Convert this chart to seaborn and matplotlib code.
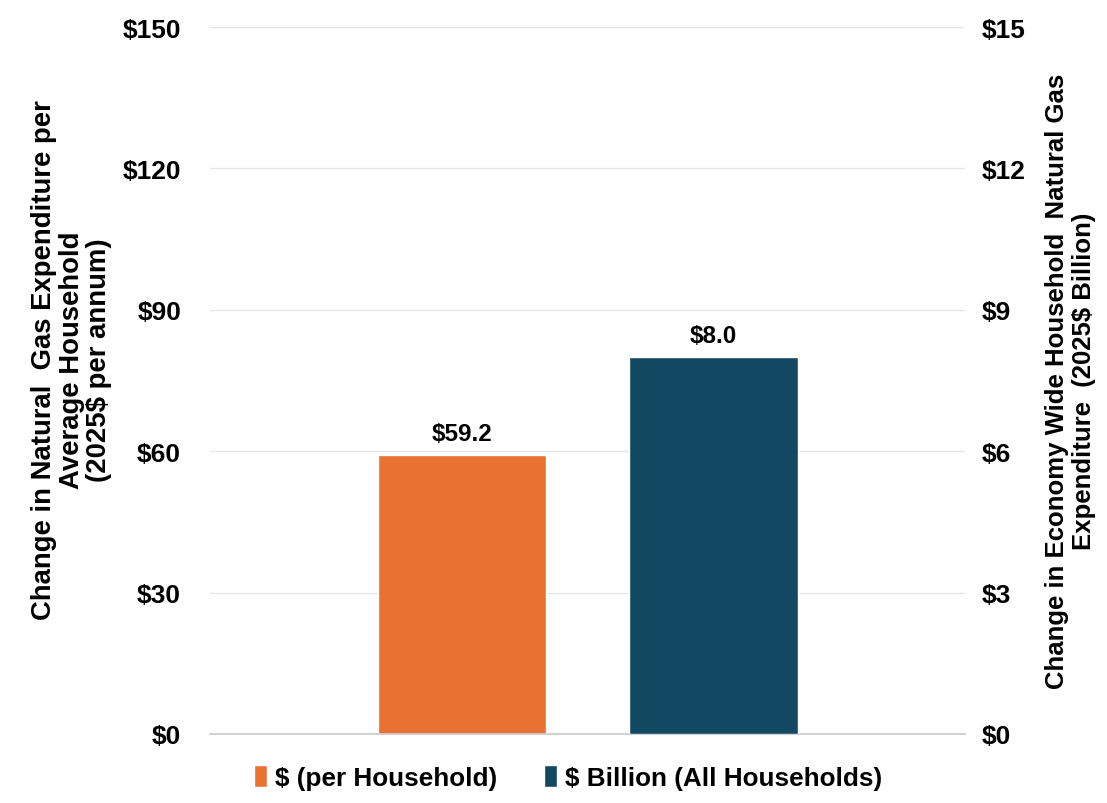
import seaborn as sns
import pandas as pd
import matplotlib.pyplot as plt
from matplotlib.patches import Patch

series = ["$ (per Household)", "$ Billion (All Households)"]
per_household = [59.2]
all_households_bn = [8.0]
left_ticks = [0, 30, 60, 90, 120, 150]
right_ticks = [0, 3, 6, 9, 12, 15]
colors = ["#E97132", "#124862"]

sns.set_theme(style="white")
plt.rcParams["font.family"] = ["Liberation Sans", "DejaVu Sans"]
plt.rcParams["font.weight"] = "bold"
plt.rcParams["text.color"] = "black"
plt.rcParams["axes.labelcolor"] = "black"
plt.rcParams["ytick.color"] = "black"

fig = plt.figure(figsize=(11.07, 8.04), dpi=100)
ax = fig.add_axes([0.19, 0.086, 0.682, 0.879])
ax2 = ax.twinx()

df_hh = pd.DataFrame({"series": [series[0]], "value": per_household})
df_all = pd.DataFrame({"series": [series[1]], "value": all_households_bn})

sns.barplot(data=df_hh, x="series", y="value", order=series, color=colors[0],
            width=0.67, ax=ax, saturation=1, zorder=3)
sns.barplot(data=df_all, x="series", y="value", order=series, color=colors[1],
            width=0.67, ax=ax2, saturation=1, zorder=3)

ax.set_ylim(0, 150)
ax2.set_ylim(0, 15)
ax.set_xlim(-1, 2)
ax2.set_xlim(-1, 2)

ax.set_yticks(left_ticks, [f"${v}" for v in left_ticks], fontsize=19, fontweight="bold")
ax2.set_yticks(right_ticks, [f"${v}" for v in right_ticks], fontsize=19, fontweight="bold")
ax.tick_params(axis="y", length=0, pad=21)
ax2.tick_params(axis="y", length=0, pad=12)
ax.set_xticks([])
ax.set_xlabel("")
ax2.set_xlabel("")

ax.grid(axis="y", color="#e6e6e6", linewidth=1, zorder=0)
ax.set_axisbelow(True)
for a in (ax, ax2):
    for s in ["top", "left", "right"]:
        a.spines[s].set_visible(False)
    a.spines["bottom"].set_color("#d0d0d0")
    a.spines["bottom"].set_linewidth(1.2)

ax.set_ylabel("Change in Natural  Gas Expenditure per\nAverage Household\n(2025$ per annum)",
              fontsize=19.8, fontweight="bold", linespacing=1.08)
ax.yaxis.set_label_coords(-0.13, 0.53)
ax2.set_ylabel("Change in Economy Wide Household  Natural Gas\nExpenditure  (2025$ Billion)",
               fontsize=18.5, fontweight="bold", rotation=90, labelpad=14, linespacing=1.12)

ax.bar_label(ax.containers[0], labels=[f"${v:.1f}" for v in per_household],
             padding=7, fontsize=17.5, fontweight="bold")
ax2.bar_label(ax2.containers[0], labels=[f"${v:.1f}" for v in all_households_bn],
              padding=7, fontsize=17.5, fontweight="bold")

handles = [Patch(facecolor=c, label=s) for c, s in zip(colors, series)]
fig.legend(handles=handles, loc="center", bbox_to_anchor=(0.513, 0.032), ncol=2,
           frameon=False, prop={"size": 18.8, "weight": "bold"},
           handlelength=0.5, handleheight=0.9, handletextpad=0.3, columnspacing=1.8)

fig.savefig("out.png", dpi=100)
